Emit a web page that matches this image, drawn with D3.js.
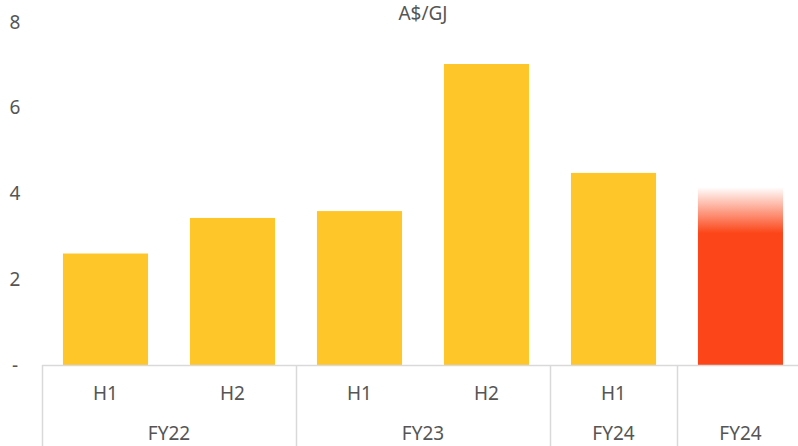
<!DOCTYPE html>
<html>
<head>
<meta charset="utf-8">
<script src="https://cdn.jsdelivr.net/npm/d3@7"></script>
<style>
  body { margin: 0; background: #fff; }
  text { font-family: "Noto Sans", sans-serif; fill: #555; font-size: 19px; }
</style>
</head>
<body>
<div id="chart"></div>
<script>
// data
var halves = ["H1", "H2", "H1", "H2", "H1", ""];
var years = ["FY22", "FY22", "FY23", "FY23", "FY24", "FY24"];
var values = [2.6, 3.43, 3.59, 7.02, 4.48, 4.15];
var solidFrom = 3.08;   // last bar is solid below this, fades out above it
var yTicks = [0, 2, 4, 6, 8];
var unit = "A$/GJ";

var width = 798, height = 446
var left = 42, plotRight = 804, plotTop = 22, base = 365;

var svg = d3.select("#chart").append("svg")
  .attr("width", width)
  .attr("height", height);

var x = d3.scaleBand()
  .domain(d3.range(values.length))
  .range([left, plotRight])
  .paddingInner(0.33)
  .paddingOuter(0.165);

var band = (plotRight - left) / values.length;

var y = d3.scaleLinear()
  .domain([0, 8])
  .range([base, plotTop]);

var grad = svg.append("defs").append("linearGradient")
  .attr("id", "fade")
  .attr("gradientUnits", "userSpaceOnUse")
  .attr("x1", 0).attr("x2", 0)
  .attr("y1", y(values[5])).attr("y2", y(solidFrom));
grad.append("stop").attr("offset", "0%").attr("stop-color", "#fc4619").attr("stop-opacity", 0);
grad.append("stop").attr("offset", "100%").attr("stop-color", "#fc4619").attr("stop-opacity", 1);

// y labels
svg.selectAll(".ylab").data(yTicks)
  .enter().append("text")
  .attr("class", "ylab")
  .attr("x", 15)
  .attr("y", d => y(d))
  .attr("dy", "0.35em")
  .attr("text-anchor", "middle")
  .text(d => d == 0 ? "-" : d);

// bars
svg.selectAll(".bar").data(values)
  .enter().append("rect")
  .attr("class", "bar")
  .attr("x", (d, i) => x(i))
  .attr("y", d => y(d))
  .attr("width", x.bandwidth())
  .attr("height", d => base - y(d))
  .attr("fill", (d, i) => i == values.length - 1 ? "url(#fade)" : "#ffc629");

// title
svg.append("text")
  .attr("x", (left + plotRight) / 2)
  .attr("y", 20)
  .attr("text-anchor", "middle")
  .text(unit);

// category axis
svg.append("line")
  .attr("x1", left).attr("x2", plotRight)
  .attr("y1", base + 0.5).attr("y2", base + 0.5)
  .attr("stroke", "#d9d9d9").attr("stroke-width", 1.5);

// group separators where the year changes
var seps = [0];
years.forEach(function(d, i) {
  if (i > 0 && d != years[i - 1]) seps.push(i);
});
seps.push(years.length - 1);  // FY24 forecast sits in its own group
seps = Array.from(new Set(seps)).sort((a, b) => a - b);

svg.selectAll(".sep").data(seps)
  .enter().append("line")
  .attr("class", "sep")
  .attr("x1", d => left + d * band + 0.5)
  .attr("x2", d => left + d * band + 0.5)
  .attr("y1", base).attr("y2", height)
  .attr("stroke", "#d9d9d9").attr("stroke-width", 1.5);

svg.selectAll(".half").data(halves)
  .enter().append("text")
  .attr("class", "half")
  .attr("x", (d, i) => x(i) + x.bandwidth() / 2)
  .attr("y", 400)
  .attr("text-anchor", "middle")
  .text(d => d);

// year labels centred on each group
var bounds = seps.concat([years.length]);
var groups = [];
for (var k = 0; k < bounds.length - 1; k++) {
  groups.push({ name: years[bounds[k]], from: bounds[k], to: bounds[k + 1] });
}
svg.selectAll(".year").data(groups)
  .enter().append("text")
  .attr("class", "year")
  .attr("x", d => left + (d.from + d.to) / 2 * band)
  .attr("y", 440)
  .attr("text-anchor", "middle")
  .text(d => d.name);
</script>
</body>
</html>
